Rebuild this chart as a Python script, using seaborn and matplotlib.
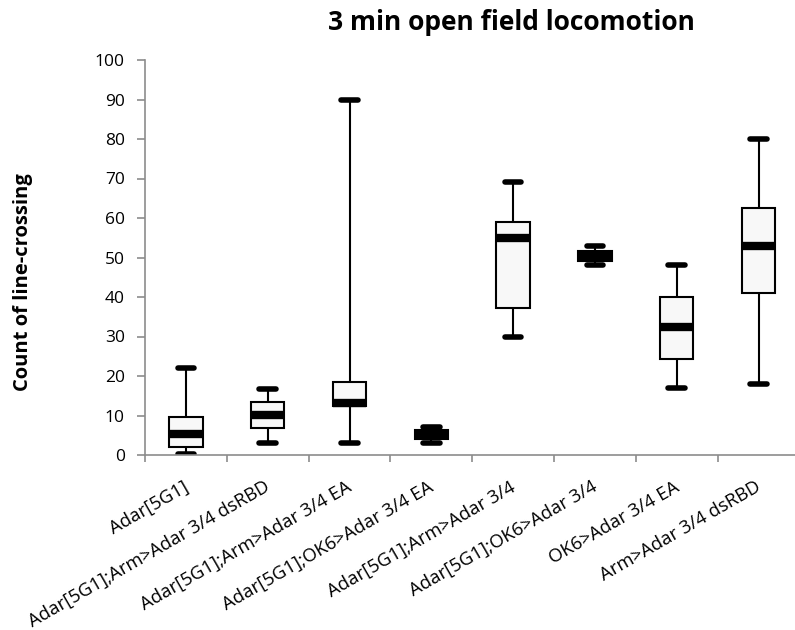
import numpy as np
import pandas as pd
import seaborn as sns
import matplotlib
matplotlib.use("Agg")
import matplotlib.pyplot as plt
import matplotlib.transforms as mtransforms
from matplotlib.ticker import FixedLocator, NullFormatter

categories = [
    "Adar[5G1]",
    "Adar[5G1];Arm>Adar 3/4 dsRBD",
    "Adar[5G1];Arm>Adar 3/4 EA",
    "Adar[5G1];OK6>Adar 3/4 EA",
    "Adar[5G1];Arm>Adar 3/4",
    "Adar[5G1];OK6>Adar 3/4",
    "OK6>Adar 3/4 EA",
    "Arm>Adar 3/4 dsRBD",
]
minimum = [0.2, 3.1, 3.1, 3.1, 30.0, 48.0, 17.0, 18.0]
q1 = [2.1, 6.8, 12.3, 4.0, 37.3, 49.2, 24.3, 40.9]
median = [5.2, 10.1, 13.2, 5.0, 55.0, 50.4, 32.3, 53.0]
q3 = [9.7, 13.5, 18.4, 6.3, 59.0, 51.6, 40.1, 62.5]
maximum = [22.0, 16.6, 90.0, 7.0, 69.2, 53.0, 48.0, 80.0]
y_ticks = list(range(0, 101, 10))

# five-number summaries: with 5 points, linear percentiles give exactly q1/median/q3
rows = []
for c, a, b, m, d, e in zip(categories, minimum, q1, median, q3, maximum):
    for v in (a, b, m, d, e):
        rows.append({"group": c, "value": v})
df = pd.DataFrame(rows)

sns.set_theme(style="white")
font = ["Open Sans", "DejaVu Sans"]
plt.rcParams["font.family"] = font

fig = plt.figure(figsize=(7.95, 6.3), dpi=100)
ax = fig.add_axes([145 / 795, 1 - 455 / 630, 650 / 795, 395 / 630])

sns.boxplot(
    data=df, x="group", y="value", order=categories, ax=ax,
    whis=(0, 100), width=0.41, color="#f8f8f8", linecolor="black",
    linewidth=1.5, showfliers=False,
    boxprops=dict(facecolor="#f8f8f8", edgecolor="black", linewidth=1.5),
    whiskerprops=dict(color="black", linewidth=1.5),
    capprops=dict(color="black", linewidth=4, solid_capstyle="round"),
    medianprops=dict(color="black", linewidth=6, solid_capstyle="butt"),
)

ax.set_xlim(-0.5, -0.5 + 650 / 81.8)
ax.set_ylim(0, 100)
ax.set_yticks(y_ticks)
ax.set_yticklabels([str(t) for t in y_ticks], fontsize=12.5, color="black")

ax.set_xticks(range(len(categories)))
ax.set_xticklabels(categories, rotation=30, ha="right", va="center", rotation_mode="anchor",
                   fontsize=13.3, color="black")
ax.tick_params(axis="x", which="major", length=0, pad=22)
shift = mtransforms.ScaledTranslation(1 / 100, 0, fig.dpi_scale_trans)
for lbl in ax.get_xticklabels():
    lbl.set_transform(lbl.get_transform() + shift)
ax.xaxis.set_minor_locator(FixedLocator([i - 0.5 for i in range(len(categories) + 1)]))
ax.xaxis.set_minor_formatter(NullFormatter())
ax.tick_params(axis="x", which="minor", length=5, width=1.2, color="#8c8c8c", direction="out", bottom=True)
ax.tick_params(axis="y", length=5.5, width=1.2, color="#8c8c8c", direction="out", left=True, pad=9)

for s in ["top", "right"]:
    ax.spines[s].set_visible(False)
for s in ["left", "bottom"]:
    ax.spines[s].set_color("#8c8c8c")
    ax.spines[s].set_linewidth(1.2)

ax.set_xlabel("")
ax.set_ylabel("Count of line-crossing", fontsize=14.5, fontweight="bold", color="black")
ax.yaxis.set_label_coords(-0.172, 0.438)

fig.text(511 / 795, 1 - 22 / 630, "3 min open field locomotion", ha="center", va="center",
         fontsize=19, fontweight="bold", color="black")

fig.savefig("out.png", dpi=100)
